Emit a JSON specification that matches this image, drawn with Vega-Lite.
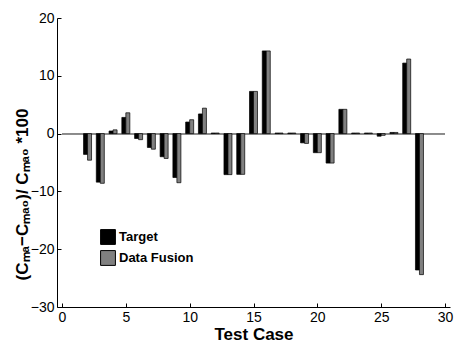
{
  "$schema": "https://vega.github.io/schema/vega-lite/v6.json",
  "width": 393,
  "height": 289,
  "autosize": {"type": "none"},
  "padding": {"left": 57, "top": 18, "right": 10, "bottom": 35},
  "background": "white",
  "config": {
    "font": "Liberation Sans",
    "view": {"stroke": null},
    "axis": {
      "grid": false,
      "domainColor": "black",
      "domainWidth": 1,
      "tickColor": "black",
      "tickWidth": 1,
      "labelColor": "black",
      "labelFont": "Liberation Sans",
      "labelFontSize": 14,
      "titleColor": "black",
      "titleFont": "Liberation Sans",
      "titleFontWeight": "bold"
    }
  },
  "data": {
    "values": [
      {"case": 2, "target": -3.6, "fusion": -4.6},
      {"case": 3, "target": -8.4, "fusion": -8.6},
      {"case": 4, "target": 0.45, "fusion": 0.65},
      {"case": 5, "target": 2.8, "fusion": 3.6},
      {"case": 6, "target": -0.85, "fusion": -1.05},
      {"case": 7, "target": -2.4, "fusion": -2.7},
      {"case": 8, "target": -4.0, "fusion": -4.3},
      {"case": 9, "target": -7.6, "fusion": -8.5},
      {"case": 10, "target": 2.0, "fusion": 2.4},
      {"case": 11, "target": 3.4, "fusion": 4.4},
      {"case": 12, "target": 0.1, "fusion": 0.1},
      {"case": 13, "target": -7.1, "fusion": -7.1},
      {"case": 14, "target": -7.05, "fusion": -7.05},
      {"case": 15, "target": 7.3, "fusion": 7.3},
      {"case": 16, "target": 14.3, "fusion": 14.3},
      {"case": 17, "target": 0.1, "fusion": 0.1},
      {"case": 18, "target": 0.1, "fusion": 0.1},
      {"case": 19, "target": -1.6, "fusion": -1.7},
      {"case": 20, "target": -3.3, "fusion": -3.3},
      {"case": 21, "target": -5.1, "fusion": -5.1},
      {"case": 22, "target": 4.2, "fusion": 4.2},
      {"case": 23, "target": 0.1, "fusion": 0.1},
      {"case": 24, "target": 0.1, "fusion": 0.1},
      {"case": 25, "target": -0.45, "fusion": -0.3},
      {"case": 26, "target": 0.2, "fusion": 0.2},
      {"case": 27, "target": 12.2, "fusion": 12.9},
      {"case": 28, "target": -23.6, "fusion": -24.4}
    ]
  },
  "layer": [
    {
      "mark": {"type": "rule", "color": "#8a8a8a", "strokeWidth": 1},
      "encoding": {
        "x": {"datum": 0, "type": "quantitative"},
        "x2": {"datum": 30},
        "y": {"datum": 0, "type": "quantitative"}
      }
    },
    {
      "mark": {"type": "bar", "width": 4, "xOffset": -2, "stroke": "black", "strokeWidth": 0.7},
      "encoding": {
        "x": {
          "field": "case",
          "type": "quantitative",
          "scale": {"domain": [0, 30], "nice": false, "zero": false},
          "axis": {
            "values": [0, 5, 10, 15, 20, 25, 30],
            "tickSize": -4,
            "labelPadding": 7,
            "title": "Test Case",
            "titleFontSize": 17,
            "titleBaseline": "alphabetic",
            "titleY": 32
          }
        },
        "y": {
          "field": "target",
          "type": "quantitative",
          "scale": {"domain": [-30, 20], "nice": false},
          "axis": {
            "values": [-30, -20, -10, 0, 10, 20],
            "tickSize": -4,
            "labelPadding": 7,
            "title": "(Cₘₐ−Cₘₐ₀)/ Cₘₐ₀ *100",
            "titleFontSize": 17,
            "titleAngle": -90,
            "titleBaseline": "middle",
            "titleX": -35,
            "titleY": 176
          }
        },
        "y2": {"datum": 0},
        "color": {
          "datum": "Target",
          "scale": {"domain": ["Target", "Data Fusion"], "range": ["#000000", "#808080"]},
          "legend": {
            "title": null,
            "orient": "none",
            "legendX": 43,
            "legendY": 211,
            "symbolType": "square",
            "symbolSize": 220,
            "symbolStrokeColor": "black",
            "symbolStrokeWidth": 1,
            "symbolOpacity": 1,
            "labelFont": "Liberation Sans",
            "labelFontSize": 13,
            "labelFontWeight": "bold",
            "labelColor": "black",
            "labelOffset": 3,
            "rowPadding": 1
          }
        }
      }
    },
    {
      "mark": {"type": "bar", "width": 4, "xOffset": 2, "stroke": "black", "strokeWidth": 0.7},
      "encoding": {
        "x": {"field": "case", "type": "quantitative"},
        "y": {"field": "fusion", "type": "quantitative"},
        "y2": {"datum": 0},
        "color": {"datum": "Data Fusion"}
      }
    }
  ]
}
